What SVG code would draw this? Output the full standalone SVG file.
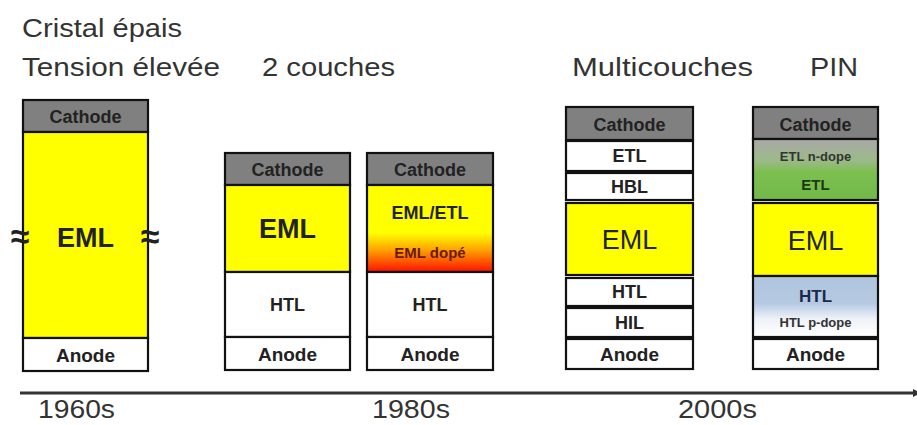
<svg xmlns="http://www.w3.org/2000/svg" width="917" height="425" viewBox="0 0 917 425">
<style>
.t{font-family:"Liberation Sans",Arial,sans-serif;fill:#222}
.title{font-size:26px;fill:#333}
.yr{font-size:26px;fill:#333}
.lb{font-weight:bold;text-anchor:middle;font-size:18px}
.big{font-weight:bold;text-anchor:middle;font-size:27px}
.eml{text-anchor:middle;font-size:27px}
.brk{font-weight:bold;font-size:34px;text-anchor:middle}
.box{stroke:#111;stroke-width:2.2}
.cath{fill:#808080}
.w{fill:#fff}
.y{fill:#ffff00}
</style>
<defs>
<linearGradient id="dope" x1="0" y1="0" x2="0" y2="1">
<stop offset="0" stop-color="#ffff00"/>
<stop offset="0.55" stop-color="#ffff00"/>
<stop offset="0.75" stop-color="#ffa000"/>
<stop offset="1" stop-color="#ff1000"/>
</linearGradient>
<linearGradient id="etl" x1="0" y1="0" x2="0" y2="1">
<stop offset="0" stop-color="#a8a8a8"/>
<stop offset="0.35" stop-color="#9cba88"/>
<stop offset="0.55" stop-color="#7bbf4f"/>
<stop offset="1" stop-color="#72b94a"/>
</linearGradient>
<linearGradient id="htl" x1="0" y1="0" x2="0" y2="1">
<stop offset="0" stop-color="#b0c4de"/>
<stop offset="0.45" stop-color="#b6c9e3"/>
<stop offset="0.7" stop-color="#eef2f8"/>
<stop offset="1" stop-color="#ffffff"/>
</linearGradient>
<marker id="arr" markerWidth="8" markerHeight="8" refX="4" refY="4" orient="auto" markerUnits="userSpaceOnUse">
<path d="M0,0 L8,4 L0,8 z" fill="#333"/>
</marker>
</defs>

<g id="titles">
<text class="title t" x="22" y="37" textLength="160" lengthAdjust="spacingAndGlyphs">Cristal épais</text>
<text class="title t" x="22" y="76" textLength="198" lengthAdjust="spacingAndGlyphs">Tension élevée</text>
<text class="title t" x="262" y="76" textLength="133" lengthAdjust="spacingAndGlyphs">2 couches</text>
<text class="title t" x="572" y="76" textLength="181" lengthAdjust="spacingAndGlyphs">Multicouches</text>
<text class="title t" x="810" y="76" textLength="48" lengthAdjust="spacingAndGlyphs">PIN</text>
</g>

<g id="stack-1960s">
<rect class="box cath" x="23" y="100" width="125" height="32"/>
<rect class="box y" x="23" y="132" width="125" height="206"/>
<rect class="box w" x="23" y="338" width="125" height="33"/>
<text class="t lb" x="85.5" y="123">Cathode</text>
<text class="t big" x="85.5" y="247">EML</text>
<text class="t lb" x="85.5" y="362" style="font-size:19px">Anode</text>
<text class="t brk" x="20" y="248">≈</text>
<text class="t brk" x="150" y="248">≈</text>
</g>

<g id="stack-2couches">
<rect class="box cath" x="225" y="153" width="125" height="32"/>
<rect class="box y" x="225" y="185" width="125" height="87"/>
<rect class="box w" x="225" y="272" width="125" height="65"/>
<rect class="box w" x="225" y="337" width="125" height="33"/>
<text class="t lb" x="287.5" y="176">Cathode</text>
<text class="t big" x="287.5" y="238">EML</text>
<text class="t lb" x="287.5" y="311">HTL</text>
<text class="t lb" x="287.5" y="361" style="font-size:19px">Anode</text>
</g>

<g id="stack-dope">
<rect class="box cath" x="367" y="153" width="126" height="32"/>
<rect class="box" fill="url(#dope)" x="367" y="185" width="126" height="87"/>
<rect class="box w" x="367" y="272" width="126" height="65"/>
<rect class="box w" x="367" y="337" width="126" height="33"/>
<text class="t lb" x="430" y="176">Cathode</text>
<text class="t lb" x="430" y="219">EML/ETL</text>
<text class="t lb" x="430" y="258" style="font-size:15px;fill:#6a1a00">EML dopé</text>
<text class="t lb" x="430" y="311">HTL</text>
<text class="t lb" x="430" y="361" style="font-size:19px">Anode</text>
</g>

<g id="stack-multicouches">
<rect class="box cath" x="566" y="107" width="127" height="33"/>
<rect class="box w" x="566" y="141" width="127" height="30"/>
<rect class="box w" x="566" y="173" width="127" height="27"/>
<rect class="box y" x="566" y="203" width="127" height="72"/>
<rect class="box w" x="566" y="278" width="127" height="28"/>
<rect class="box w" x="566" y="308" width="127" height="29"/>
<rect class="box w" x="566" y="339" width="127" height="30"/>
<text class="t lb" x="629.5" y="131">Cathode</text>
<text class="t lb" x="629.5" y="162">ETL</text>
<text class="t lb" x="629.5" y="193">HBL</text>
<text class="t eml" x="629.5" y="249">EML</text>
<text class="t lb" x="629.5" y="298">HTL</text>
<text class="t lb" x="629.5" y="329">HIL</text>
<text class="t lb" x="629.5" y="361" style="font-size:19px">Anode</text>
</g>

<g id="stack-pin">
<rect class="box cath" x="753" y="107" width="125" height="32"/>
<rect class="box" fill="url(#etl)" x="753" y="139" width="125" height="61"/>
<rect class="box y" x="753" y="203" width="125" height="73"/>
<rect class="box" fill="url(#htl)" x="753" y="276" width="125" height="61"/>
<rect class="box w" x="753" y="339" width="125" height="30"/>
<text class="t lb" x="815.5" y="131">Cathode</text>
<text class="t lb" x="815.5" y="161" style="font-size:13px;fill:#333">ETL n-dope</text>
<text class="t lb" x="815.5" y="190" style="font-size:15px;fill:#1c3a10">ETL</text>
<text class="t eml" x="815.5" y="250">EML</text>
<text class="t lb" x="815.5" y="302" style="font-size:17px;fill:#1a2a4a">HTL</text>
<text class="t lb" x="815.5" y="327" style="font-size:13px;fill:#333">HTL p-dope</text>
<text class="t lb" x="815.5" y="361" style="font-size:19px">Anode</text>
</g>

<g id="connectors">
<line x1="20" y1="393" x2="917" y2="393" stroke="#333" stroke-width="3" marker-end="url(#arr)"/>
</g>

<g id="timeline-labels">
<text class="yr t" x="38" y="418" textLength="77" lengthAdjust="spacingAndGlyphs">1960s</text>
<text class="yr t" x="372" y="418" textLength="78" lengthAdjust="spacingAndGlyphs">1980s</text>
<text class="yr t" x="678" y="418" textLength="79" lengthAdjust="spacingAndGlyphs">2000s</text>
</g>
</svg>
